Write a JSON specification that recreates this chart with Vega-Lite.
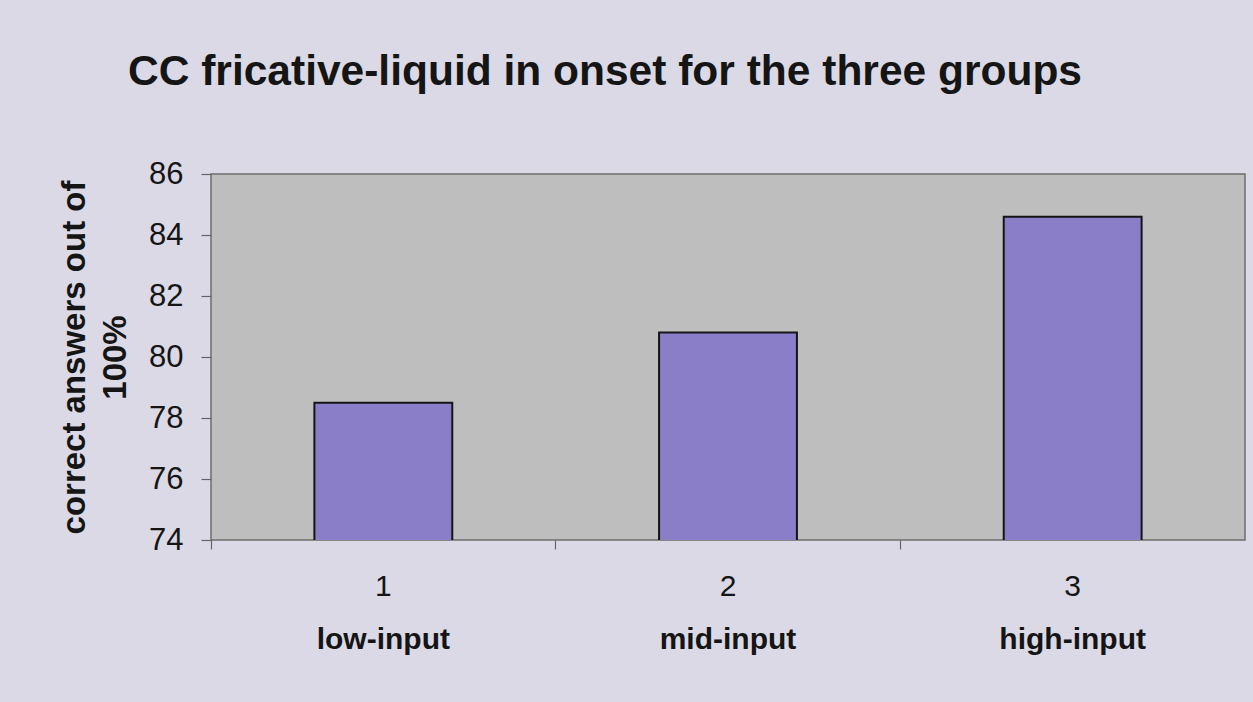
{
  "$schema": "https://vega.github.io/schema/vega-lite/v6.json",
  "width": 1034,
  "height": 366,
  "autosize": {"type": "none"},
  "padding": {"left": 211, "top": 174, "right": 8, "bottom": 162},
  "background": "#dad9e5",
  "config": {
    "font": "Liberation Sans",
    "view": {"fill": "#bebebf", "stroke": "#6e6e6e", "strokeWidth": 1.5}
  },
  "title": {
    "text": "CC fricative-liquid in onset for the three groups",
    "fontSize": 42.5,
    "fontWeight": "bold",
    "font": "Liberation Sans",
    "color": "#151515",
    "anchor": "middle",
    "frame": "group",
    "dx": -123,
    "offset": 65
  },
  "data": {
    "values": [
      {"group": "1", "name": "low-input", "value": 78.5},
      {"group": "2", "name": "mid-input", "value": 80.8},
      {"group": "3", "name": "high-input", "value": 84.6}
    ]
  },
  "encoding": {
    "y": {
      "field": "value",
      "type": "quantitative",
      "scale": {"domain": [74, 86], "nice": false, "zero": false},
      "axis": {
        "values": [74, 76, 78, 80, 82, 84, 86],
        "title": ["correct answers out of", "100%"],
        "titleFontSize": 33,
        "titleFontWeight": "bold",
        "titleColor": "#151515",
        "titleLineHeight": 41,
        "titlePadding": 16,
        "labelFontSize": 31,
        "labelColor": "#151515",
        "labelPadding": 18,
        "tickSize": 10,
        "tickColor": "#666",
        "tickWidth": 1.2,
        "domain": false,
        "grid": false
      }
    }
  },
  "layer": [
    {
      "mark": {"type": "bar", "width": {"band": 0.4}, "fill": "#8b7ec8", "stroke": "#151515", "strokeWidth": 2, "clip": true},
      "encoding": {
        "x": {
          "field": "group",
          "type": "ordinal",
          "scale": {"paddingInner": 0, "paddingOuter": 0},
          "axis": {
            "orient": "bottom",
            "title": null,
            "bandPosition": 0,
            "labelAngle": 0,
            "labelFontSize": 30,
            "labelColor": "#151515",
            "labelPadding": 22,
            "tickSize": 9,
            "tickColor": "#666",
            "tickWidth": 1.2,
            "domain": false,
            "grid": false
          }
        }
      }
    },
    {
      "mark": {"type": "bar", "opacity": 0},
      "encoding": {
        "x": {
          "field": "name",
          "type": "ordinal",
          "sort": null,
          "scale": {"paddingInner": 0, "paddingOuter": 0},
          "axis": {
            "orient": "bottom",
            "title": null,
            "labelAngle": 0,
            "labelFontSize": 30,
            "labelFontWeight": "bold",
            "labelColor": "#151515",
            "labelPadding": 84,
            "ticks": false,
            "domain": false,
            "grid": false
          }
        }
      }
    }
  ],
  "resolve": {"scale": {"x": "independent"}, "axis": {"x": "independent"}}
}
